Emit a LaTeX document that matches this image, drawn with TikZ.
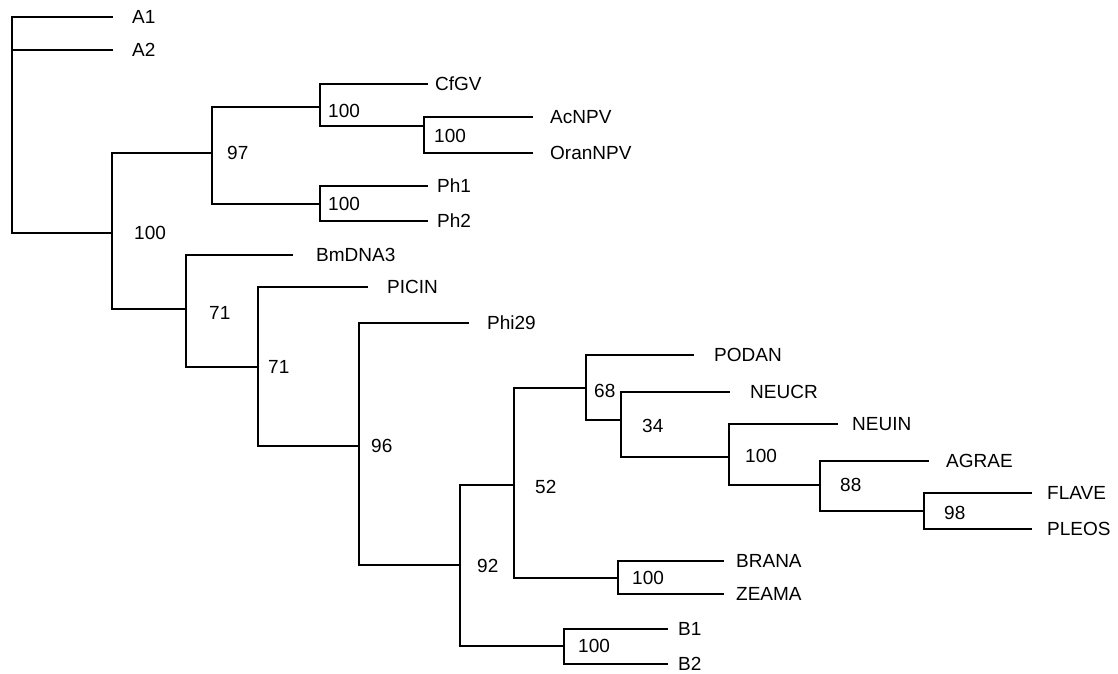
\documentclass[tikz,border=0pt]{standalone}
\usepackage{fontspec}
\setmainfont{Liberation Sans}
\begin{document}
\begin{tikzpicture}[x=1pt,y=-1pt,
  br/.style={line width=1.4pt,line cap=rect},
  lab/.style={anchor=west,inner sep=0pt,text height=13.6pt,text depth=0pt,font=\fontsize{19}{21}\selectfont}]
\useasboundingbox (0,0) rectangle (1118,673);
% internal nodes
\coordinate (root) at (12,233);
\coordinate (n1) at (112,233);
\coordinate (n97) at (212,153);
\coordinate (nC) at (320,107);
\coordinate (nA) at (424,126);
\coordinate (nPh) at (320,204);
\coordinate (nBm) at (186,309);
\coordinate (nPI) at (258,367);
\coordinate (nPhi) at (359,446);
\coordinate (n92) at (460,565);
\coordinate (n52) at (514,485);
\coordinate (n68) at (586,388);
\coordinate (n34) at (621,420);
\coordinate (nNI) at (729,457);
\coordinate (n88) at (820,485);
\coordinate (n98) at (924,511);
\coordinate (nBR) at (618,578);
\coordinate (nB) at (564,646);
% tips
\coordinate (tA1) at (112,17);
\coordinate (tA2) at (112,50);
\coordinate (tCf) at (427,84);
\coordinate (tAc) at (532,117);
\coordinate (tOr) at (532,153);
\coordinate (tPh1) at (427,186);
\coordinate (tPh2) at (427,221);
\coordinate (tBm) at (292,255);
\coordinate (tPI) at (367,287);
\coordinate (tPhi) at (468,323);
\coordinate (tPO) at (693,355);
\coordinate (tNC) at (729,392);
\coordinate (tNI) at (837,424);
\coordinate (tAG) at (928,461);
\coordinate (tFL) at (1031,493);
\coordinate (tPL) at (1031,529);
\coordinate (tBR) at (723,561);
\coordinate (tZE) at (723,594);
\coordinate (tB1) at (667,629);
\coordinate (tB2) at (667,664);
% branches
\draw[br] (root) |- (tA1);
\draw[br] (root) |- (tA2);
\draw[br] (root) -- (n1);
\draw[br] (n1) |- (n97);
\draw[br] (n1) |- (nBm);
\draw[br] (n97) |- (nC);
\draw[br] (n97) |- (nPh);
\draw[br] (nC) |- (tCf);
\draw[br] (nC) |- (nA);
\draw[br] (nA) |- (tAc);
\draw[br] (nA) |- (tOr);
\draw[br] (nPh) |- (tPh1);
\draw[br] (nPh) |- (tPh2);
\draw[br] (nBm) |- (tBm);
\draw[br] (nBm) |- (nPI);
\draw[br] (nPI) |- (tPI);
\draw[br] (nPI) |- (nPhi);
\draw[br] (nPhi) |- (tPhi);
\draw[br] (nPhi) |- (n92);
\draw[br] (n92) |- (n52);
\draw[br] (n92) |- (nB);
\draw[br] (n52) |- (n68);
\draw[br] (n52) |- (nBR);
\draw[br] (n68) |- (tPO);
\draw[br] (n68) |- (n34);
\draw[br] (n34) |- (tNC);
\draw[br] (n34) |- (nNI);
\draw[br] (nNI) |- (tNI);
\draw[br] (nNI) |- (n88);
\draw[br] (n88) |- (tAG);
\draw[br] (n88) |- (n98);
\draw[br] (n98) |- (tFL);
\draw[br] (n98) |- (tPL);
\draw[br] (nBR) |- (tBR);
\draw[br] (nBR) |- (tZE);
\draw[br] (nB) |- (tB1);
\draw[br] (nB) |- (tB2);
% leaf labels
\node[lab] (lA1) at (132,17) {A1};
\node[lab] (lA2) at (132,50) {A2};
\node[lab] (lCf) at (435,84) {CfGV};
\node[lab] (lAc) at (550,117) {AcNPV};
\node[lab] (lOr) at (550,153) {OranNPV};
\node[lab] (lPh1) at (437,186) {Ph1};
\node[lab] (lPh2) at (437,221) {Ph2};
\node[lab] (lBm) at (316,255) {BmDNA3};
\node[lab] (lPI) at (387,287) {PICIN};
\node[lab] (lPhi) at (487,323) {Phi29};
\node[lab] (lPO) at (714,355) {PODAN};
\node[lab] (lNC) at (750,392) {NEUCR};
\node[lab] (lNI) at (852,424) {NEUIN};
\node[lab] (lAG) at (946,461) {AGRAE};
\node[lab] (lFL) at (1047,493) {FLAVE};
\node[lab] (lPL) at (1047,529) {PLEOS};
\node[lab] (lBR) at (736,561) {BRANA};
\node[lab] (lZE) at (736,594) {ZEAMA};
\node[lab] (lB1) at (678,629) {B1};
\node[lab] (lB2) at (678,664) {B2};
% support values
\node[lab] (s1) at (134,233) {100};
\node[lab] (s97) at (227,153) {97};
\node[lab] (sC) at (328,111) {100};
\node[lab] (sA) at (434,136) {100};
\node[lab] (sPh) at (328,204) {100};
\node[lab] (sBm) at (209,313) {71};
\node[lab] (sPI) at (268,367) {71};
\node[lab] (sPhi) at (371,446) {96};
\node[lab] (s92) at (477,566) {92};
\node[lab] (s52) at (535,487) {52};
\node[lab] (s68) at (594,391) {68};
\node[lab] (s34) at (642,426) {34};
\node[lab] (sNI) at (745,456) {100};
\node[lab] (s88) at (840,485) {88};
\node[lab] (s98) at (944,513) {98};
\node[lab] (sBR) at (632,578) {100};
\node[lab] (sB) at (578,646) {100};
\end{tikzpicture}
\end{document}
